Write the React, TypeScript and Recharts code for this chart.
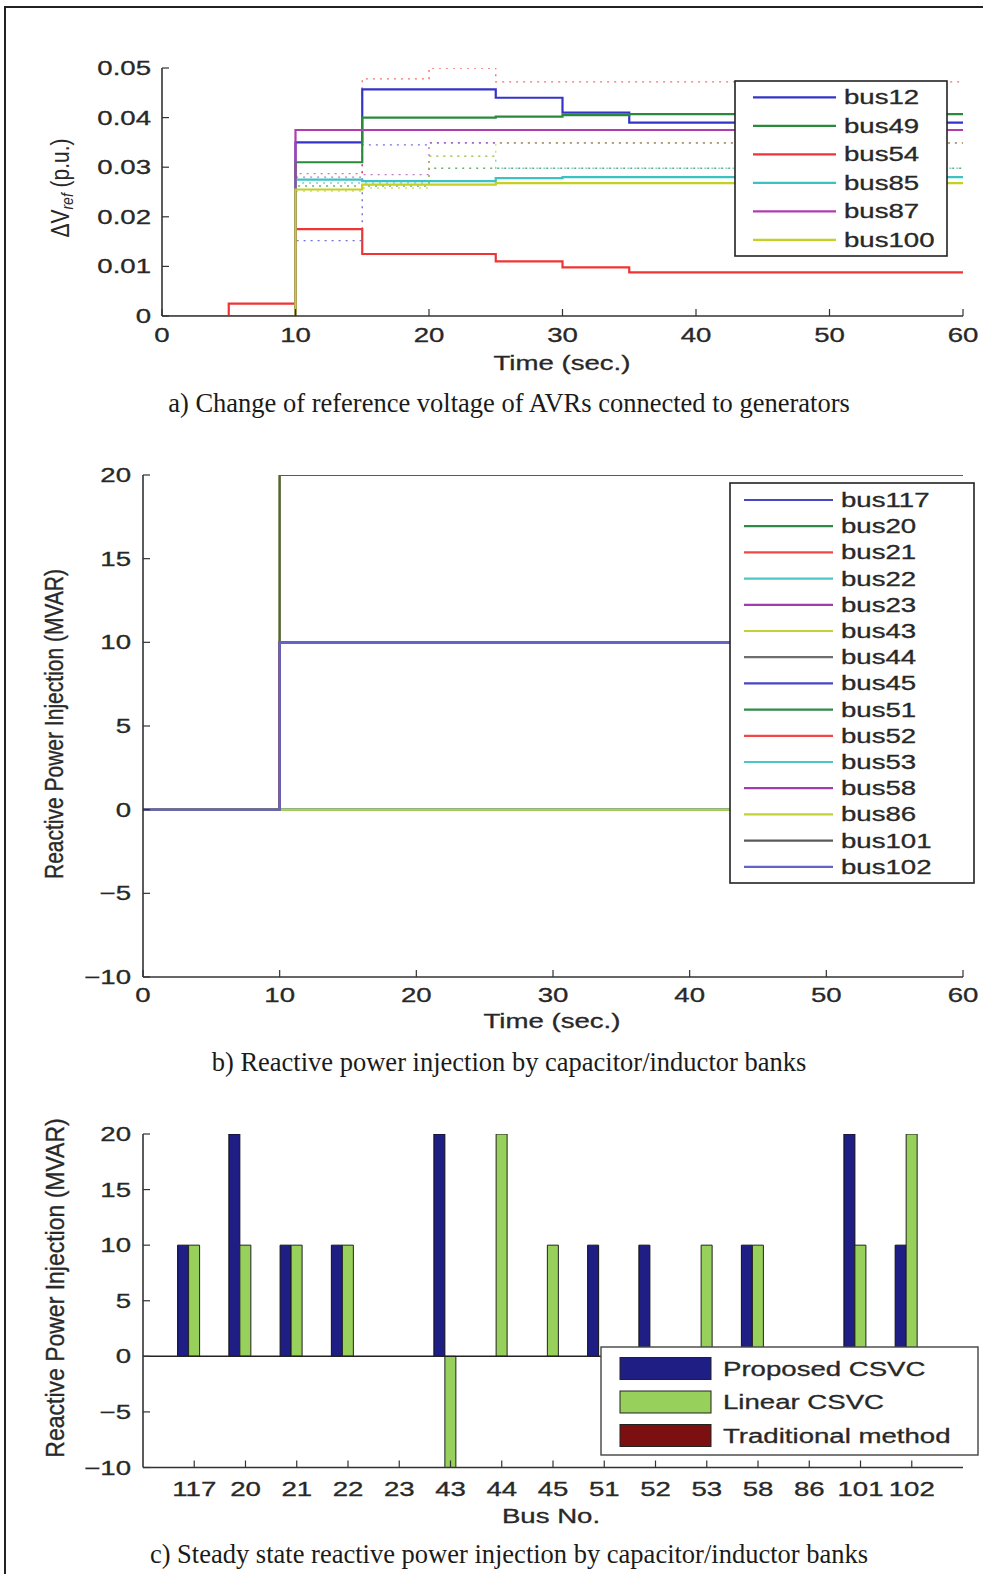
import { Bar, BarChart, Label, Legend, Line, LineChart, ReferenceLine, XAxis, YAxis } from "recharts";

const SANS = "'Liberation Sans', Arial, Helvetica, sans-serif";
const SERIF = "'Liberation Serif', 'Times New Roman', serif";
const INK = "#282828";
const AXIS = "#333";
const SX = 1.38; // the figures were stretched sideways

// a) change of AVR reference voltage
const timeA = [0, 5, 10, 15, 20, 25, 30, 35, 60];
const ticksTime = [0, 10, 20, 30, 40, 50, 60];
const ticksA = [0, 0.01, 0.02, 0.03, 0.04, 0.05];
const avrNames = ["bus12", "bus49", "bus54", "bus85", "bus87", "bus100"];
const avrColors = ["#3434c8", "#2a8a3c", "#ee3434", "#3cc2c0", "#b03cb0", "#c4d024"];
const bus12 = [0, 0, 0.035, 0.0457, 0.0457, 0.044, 0.041, 0.039, 0.039];
const bus49 = [0, 0, 0.031, 0.04, 0.04, 0.0402, 0.0405, 0.0407, 0.0407];
const bus54 = [0, 0.0025, 0.0175, 0.0125, 0.0125, 0.011, 0.0098, 0.0088, 0.0088];
const bus85 = [0, 0, 0.0275, 0.0272, 0.0272, 0.0278, 0.028, 0.028, 0.028];
const bus87 = [0, 0, 0.0375, 0.0375, 0.0375, 0.0375, 0.0375, 0.0375, 0.0375];
const bus100 = [0, 0, 0.0255, 0.0265, 0.0265, 0.0268, 0.0268, 0.0268, 0.0268];
// dotted traces (comparison run, not in legend)
const dot12 = [0, 0, 0.0152, 0.0345, 0.0349, 0.0349, 0.0349, 0.0349, 0.0349];
const dot49 = [0, 0, 0.0262, 0.0262, 0.0298, 0.0298, 0.0298, 0.0298, 0.0298];
const dot54 = [0, 0, 0.0287, 0.0478, 0.05, 0.0472, 0.0472, 0.0472, 0.0472];
const dot85 = [0, 0, 0.0268, 0.0268, 0.0322, 0.0298, 0.0298, 0.0298, 0.0298];
const dot87 = [0, 0, 0.028, 0.0285, 0.0349, 0.0349, 0.0349, 0.0349, 0.0349];
const dot100 = [0, 0, 0.0252, 0.0258, 0.0322, 0.0349, 0.0349, 0.0349, 0.0349];
const avrSolid = [bus12, bus49, bus54, bus85, bus87, bus100];
const avrDotted = [dot12, dot49, dot54, dot85, dot87, dot100];

// b) reactive power injection vs time
const timeB = [0, 10, 60];
const ticksB = [-10, -5, 0, 5, 10, 15, 20];
const capNames = ["bus117", "bus20", "bus21", "bus22", "bus23", "bus43", "bus44", "bus45", "bus51", "bus52", "bus53", "bus58", "bus86", "bus101", "bus102"];
const capColors = ["#4646c6", "#2e8b48", "#f04848", "#4cc6c6", "#a03cae", "#c2d236", "#6e6e6e", "#4646c6", "#2e8b48", "#f04848", "#4cc6c6", "#a03cae", "#c2d236", "#5a5a5a", "#6464c8"];
const capBefore = [0, 0, 0, 0, 0, 0, 0, 0, 0, 0, 0, 0, 0, 0, 0];
const capAfter = [10, 20, 10, 10, 0, 20, 0, 0, 10, 10, 0, 10, 0, 20, 10];

// c) steady state injection
const busNo = ["117", "20", "21", "22", "23", "43", "44", "45", "51", "52", "53", "58", "86", "101", "102"];
const methods = ["Proposed CSVC", "Linear CSVC", "Traditional method"];
const proposed = [10, 20, 10, 10, 0, 20, 0, 0, 10, 10, 0, 10, 0, 20, 10];
const linear = [10, 10, 10, 10, 0, -10, 20, 10, 0, 0, 10, 10, 0, 10, 20];
const traditional = [0, 0, 0, 0, 0, 0, 0, 0, 0, 0, 0, 0, 0, 0, 0];

const rowsA = timeA.map((t, i) => {
  const row: Record<string, number> = { t };
  avrNames.forEach((n, k) => {
    row[n] = avrSolid[k][i];
    row["d_" + n] = avrDotted[k][i];
  });
  return row;
});

const rowsB = timeB.map((t) => {
  const row: Record<string, number> = { t };
  capNames.forEach((n, k) => {
    row[n] = t < 10 ? capBefore[k] : capAfter[k];
  });
  return row;
});

const rowsC = busNo.map((bus, i) => ({ bus, proposed: proposed[i], linear: linear[i], traditional: traditional[i] }));

// legend rows: only the named series, in plotting order
const inOrder = (payload: any[], names: string[]) =>
  (payload || [])
    .filter((p) => names.includes(p.value))
    .sort((a, b) => names.indexOf(a.value) - names.indexOf(b.value));

function Txt({ x, y, anchor = "middle", size = 20, sx = SX, sy = 1, rotate = 0, family = SANS, children }: any) {
  return (
    <text
      transform={`translate(${x},${y}) rotate(${rotate}) scale(${sx},${sy})`}
      textAnchor={anchor}
      dominantBaseline="central"
      fontSize={size}
      fontFamily={family}
      fill={INK}
      stroke={INK}
      strokeWidth={0.3}
    >
      {children}
    </text>
  );
}

const minus = (v: number) => (v < 0 ? "\u2212" + Math.abs(v) : String(v));
const tickBottom = (p: any) => <Txt x={p.x} y={p.y}>{p.payload.value}</Txt>;
const tickLeft = (fmt: (v: number) => string) => (p: any) => (
  <Txt x={p.x} y={p.y} anchor="end">{fmt(p.payload.value)}</Txt>
);

function LineLegend({ payload, names, width, height, top, step, x1, x2, tx }: any) {
  return (
    <svg width={width} height={height} style={{ display: "block" }}>
      <rect x={1} y={1} width={width - 2} height={height - 2} fill="#fff" stroke="#222" strokeWidth={1.6} />
      {inOrder(payload, names).map((p: any, i: number) => {
        const y = top + i * step;
        return (
          <g key={p.value}>
            <line x1={x1} x2={x2} y1={y} y2={y} stroke={p.color} strokeWidth={2.2} />
            <Txt x={tx} y={y} anchor="start">{p.value}</Txt>
          </g>
        );
      })}
    </svg>
  );
}

function BarLegend({ payload }: any) {
  const w = 379;
  const h = 110;
  return (
    <svg width={w} height={h} style={{ display: "block" }}>
      <rect x={1} y={1} width={w - 2} height={h - 2} fill="#fff" stroke="#444" strokeWidth={1.4} />
      {inOrder(payload, methods).map((p: any, i: number) => {
        const y = 22.5 + i * 33.5;
        return (
          <g key={p.value}>
            <rect x={20} y={y - 11} width={91} height={22} fill={p.color} stroke="#222" strokeWidth={1} />
            <Txt x={123} y={y} anchor="start">{p.value}</Txt>
          </g>
        );
      })}
    </svg>
  );
}

const axisLine = { stroke: AXIS, strokeWidth: 1.6 };
const tickLine = { stroke: AXIS, strokeWidth: 1.2 };

function Caption({ y, children }: any) {
  return (
    <div
      style={{
        position: "absolute",
        left: 0,
        width: 1018,
        top: y - 16,
        lineHeight: "32px",
        fontSize: 26.5,
        fontFamily: SERIF,
        textAlign: "center",
        color: "#1a1a1a",
        whiteSpace: "nowrap",
      }}
    >
      {children}
    </div>
  );
}

export default function App() {
  return (
    <div style={{ position: "absolute", left: 0, top: 0, width: 983, height: 1574, overflow: "hidden", background: "#fff" }}>
      <div style={{ position: "absolute", left: 4, top: 6, width: 1000, height: 1600, borderLeft: "2px solid #222", borderTop: "2px solid #222" }} />

      <div style={{ position: "absolute", left: 0, top: 0 }}>
        <LineChart width={983} height={380} data={rowsA} margin={{ top: 68, right: 20, bottom: 0, left: 0 }}>
          <XAxis dataKey="t" type="number" domain={[0, 60]} ticks={ticksTime} interval={0} allowDataOverflow height={64}
            axisLine={axisLine} tickLine={tickLine} tickSize={-7} tickMargin={25.5} tick={tickBottom}>
            <Label content={() => <Txt x={562} y={363}>Time (sec.)</Txt>} />
          </XAxis>
          <XAxis xAxisId="top" orientation="top" dataKey="t" type="number" domain={[0, 60]} ticks={ticksTime} interval={0}
            allowDataOverflow height={0} axisLine={axisLine} tickLine={tickLine} tickSize={-7} tick={false} />
          <YAxis type="number" domain={[0, 0.05]} ticks={ticksA} interval={0} allowDataOverflow width={162}
            axisLine={axisLine} tickLine={tickLine} tickSize={-7} tickMargin={18}
            tick={tickLeft((v) => (v === 0 ? "0" : v.toFixed(2)))}>
            <Label
              content={() => (
                <text transform="translate(60,188) rotate(-90) scale(1,1.2)" textAnchor="middle" dominantBaseline="central"
                  fontSize={21} fontFamily={SANS} fill={INK}>
                  {"\u0394V"}
                  <tspan fontSize={14} dy={5} fontStyle="italic">ref</tspan>
                  <tspan dy={-5}> (p.u.)</tspan>
                </text>
              )}
            />
          </YAxis>
          <YAxis yAxisId="right" orientation="right" type="number" domain={[0, 0.05]} ticks={ticksA} interval={0}
            allowDataOverflow width={0} axisLine={axisLine} tickLine={tickLine} tickSize={-7} tick={false} />
          {avrNames.map((n, k) => (
            <Line key={"d_" + n} dataKey={"d_" + n} type="stepAfter" stroke={avrColors[k]} strokeWidth={1.4}
              strokeOpacity={0.7} strokeDasharray="2 5" dot={false} activeDot={false} legendType="none" isAnimationActive={false} />
          ))}
          {avrNames.map((n, k) => (
            <Line key={n} dataKey={n} name={n} type="stepAfter" stroke={avrColors[k]} strokeWidth={2.2}
              dot={false} activeDot={false} isAnimationActive={false} />
          ))}
          <Legend align="center" verticalAlign="middle" wrapperStyle={{ left: 734, top: 80, width: 214, height: 177 }}
            content={(p: any) => <LineLegend payload={p.payload} names={avrNames} width={214} height={177} top={17.4} step={28.5} x1={19} x2={102} tx={110} />} />
        </LineChart>
      </div>
      <Caption y={403}>a) Change of reference voltage of AVRs connected to generators</Caption>

      <div style={{ position: "absolute", left: 0, top: 440 }}>
        <LineChart width={983} height={600} data={rowsB} margin={{ top: 35, right: 20, bottom: 0, left: 0 }}>
          <XAxis dataKey="t" type="number" domain={[0, 60]} ticks={ticksTime} interval={0} allowDataOverflow height={63}
            axisLine={axisLine} tickLine={tickLine} tickSize={-7} tickMargin={25} tick={tickBottom}>
            <Label content={() => <Txt x={552} y={581}>Time (sec.)</Txt>} />
          </XAxis>
          <XAxis xAxisId="top" orientation="top" dataKey="t" type="number" domain={[0, 60]} ticks={ticksTime} interval={0}
            allowDataOverflow height={0} axisLine={axisLine} tickLine={tickLine} tickSize={-7} tick={false} />
          <YAxis type="number" domain={[-10, 20]} ticks={ticksB} interval={0} allowDataOverflow width={143}
            axisLine={axisLine} tickLine={tickLine} tickSize={-7} tickMargin={19} tick={tickLeft(minus)}>
            <Label content={() => <Txt x={54} y={284} rotate={-90} sx={1} sy={1.2} size={21}>Reactive Power Injection (MVAR)</Txt>} />
          </YAxis>
          <YAxis yAxisId="right" orientation="right" type="number" domain={[-10, 20]} ticks={ticksB} interval={0}
            allowDataOverflow width={0} axisLine={axisLine} tickLine={tickLine} tickSize={-7} tick={false} />
          {capNames.map((n, k) => (
            <Line key={n} dataKey={n} name={n} type="stepAfter" stroke={capColors[k]} strokeWidth={2.2}
              dot={false} activeDot={false} isAnimationActive={false} />
          ))}
          <Legend align="center" verticalAlign="middle" wrapperStyle={{ left: 729, top: 42, width: 246, height: 402 }}
            content={(p: any) => <LineLegend payload={p.payload} names={capNames} width={246} height={402} top={18} step={26.2} x1={15} x2={104} tx={112} />} />
        </LineChart>
      </div>
      <Caption y={1062}>b) Reactive power injection by capacitor/inductor banks</Caption>

      <div style={{ position: "absolute", left: 0, top: 1100 }}>
        <BarChart width={983} height={430} data={rowsC} margin={{ top: 34, right: 20, bottom: 0, left: 0 }} barGap={0} barSize={11}>
          <XAxis dataKey="bus" padding={{ left: 25.6, right: 25.6 }} interval={0} height={62.5}
            axisLine={axisLine} tickLine={tickLine} tickSize={-7} tickMargin={28.5} tick={tickBottom}>
            <Label content={() => <Txt x={551} y={416}>Bus No.</Txt>} />
          </XAxis>
          <XAxis xAxisId="top" orientation="top" dataKey="bus" padding={{ left: 25.6, right: 25.6 }} interval={0} height={0}
            axisLine={axisLine} tickLine={tickLine} tickSize={-7} tick={false} />
          <YAxis type="number" domain={[-10, 20]} ticks={ticksB} interval={0} allowDataOverflow width={143}
            axisLine={axisLine} tickLine={tickLine} tickSize={-7} tickMargin={19} tick={tickLeft(minus)}>
            <Label content={() => <Txt x={55} y={188} rotate={-90} sx={1} sy={1.15} size={23}>Reactive Power Injection (MVAR)</Txt>} />
          </YAxis>
          <YAxis yAxisId="right" orientation="right" type="number" domain={[-10, 20]} ticks={ticksB} interval={0}
            allowDataOverflow width={0} axisLine={axisLine} tickLine={tickLine} tickSize={-7} tick={false} />
          <ReferenceLine y={0} stroke="#222" strokeWidth={1.5} />
          <Bar dataKey="proposed" name={methods[0]} fill="#1e1e84" stroke="#111" strokeWidth={1} isAnimationActive={false} />
          <Bar dataKey="linear" name={methods[1]} fill="#98d05c" stroke="#222" strokeWidth={1} isAnimationActive={false} />
          <Bar dataKey="traditional" name={methods[2]} fill="#7c1010" stroke="#222" strokeWidth={1} isAnimationActive={false} />
          <Legend align="center" verticalAlign="middle" wrapperStyle={{ left: 600, top: 246, width: 379, height: 110 }}
            content={(p: any) => <BarLegend payload={p.payload} />} />
        </BarChart>
      </div>
      <Caption y={1554}>c) Steady state reactive power injection by capacitor/inductor banks</Caption>
    </div>
  );
}
